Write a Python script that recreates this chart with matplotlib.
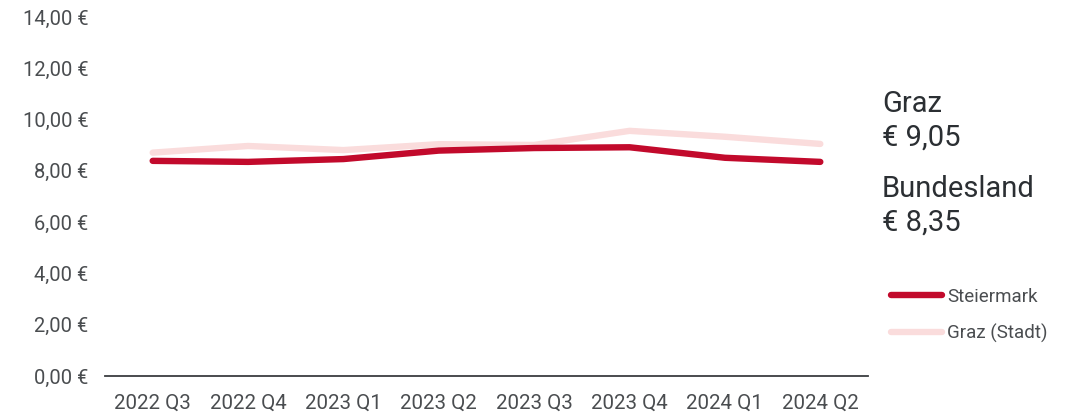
import matplotlib.pyplot as plt
import numpy as np

plt.rcParams['font.family'] = ['Roboto', 'DejaVu Sans']

# Daten
quartale = ["2022 Q3", "2022 Q4", "2023 Q1", "2023 Q2",
            "2023 Q3", "2023 Q4", "2024 Q1", "2024 Q2"]
steiermark = [8.39, 8.35, 8.46, 8.79, 8.89, 8.92, 8.51, 8.35]
graz = [8.71, 8.97, 8.81, 9.04, 9.01, 9.56, 9.33, 9.05]
y_ticks = [0, 2, 4, 6, 8, 10, 12, 14]

rot = '#C20A2C'
rosa = '#FADCDC'
grau = '#4a4d50'

fig = plt.figure(figsize=(10.68, 4.16), dpi=100)
ax = fig.add_axes([105 / 1068, 1 - 376 / 416, 763 / 1068, 359 / 416])

x = np.arange(len(quartale))
l_graz, = ax.plot(x, graz, color=rosa, lw=4.6, solid_capstyle='round',
                  label='Graz (Stadt)', zorder=2)
l_stm, = ax.plot(x, steiermark, color=rot, lw=4.6, solid_capstyle='round',
                 label='Steiermark', zorder=3)

ax.set_xlim(-0.5, len(quartale) - 0.5)
ax.set_ylim(0, 14)
ax.set_xticks(x)
ax.set_xticklabels(quartale, fontsize=14.8, color=grau)
ax.set_yticks(y_ticks)
ax.set_yticklabels([f"{v:.2f}".replace('.', ',') + " €" for v in y_ticks],
                   fontsize=14.5, color=grau)
ax.tick_params(axis='both', length=0)
ax.tick_params(axis='y', pad=12)
ax.tick_params(axis='x', pad=13)

for s in ['top', 'right', 'left']:
    ax.spines[s].set_visible(False)
ax.spines['bottom'].set_color('#3a3d40')
ax.spines['bottom'].set_linewidth(1.3)

# Textblock rechts
txt = dict(fontsize=21, color='#2b2f33', va='center', ha='left')
fig.text(882 / 1068, 1 - 104 / 416, "Graz", **txt)
fig.text(882 / 1068, 1 - 138 / 416, "€ 9,05", **txt)
fig.text(882 / 1068, 1 - 189 / 416, "Bundesland", **txt)
fig.text(882 / 1068, 1 - 223 / 416, "€ 8,35", **txt)

# Legende
leg = fig.legend(handles=[l_stm, l_graz], loc='upper left',
                 bbox_to_anchor=(874 / 1068, 1 - 271 / 416),
                 frameon=False, fontsize=13.5, handlelength=2.75,
                 handletextpad=0.25, labelspacing=0.95)
for t in leg.get_texts():
    t.set_color(grau)

fig.savefig('out.png', dpi=100)
